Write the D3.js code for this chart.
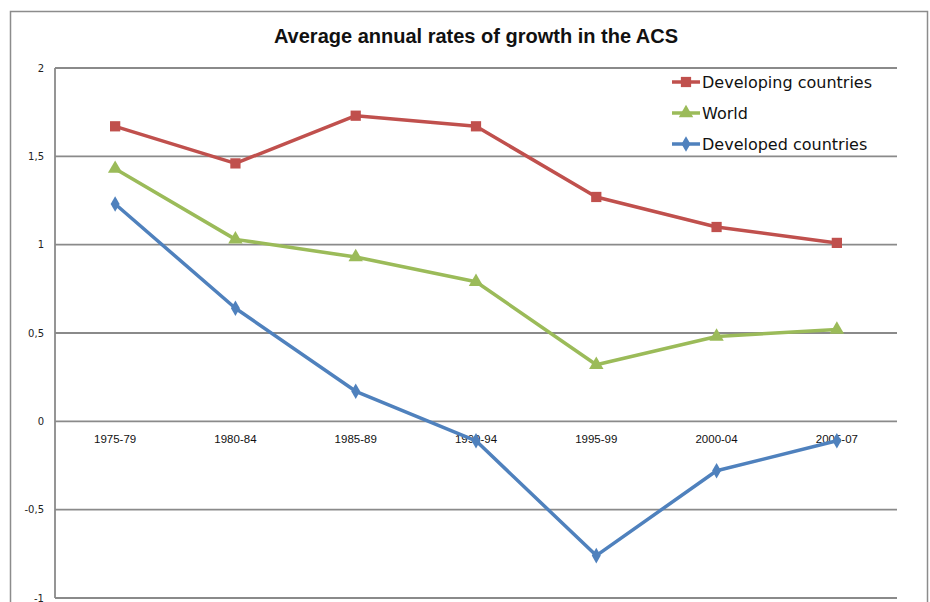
<!DOCTYPE html>
<html>
<head>
<meta charset="utf-8">
<script src="https://cdn.jsdelivr.net/npm/d3@7"></script>
<style>
  body { margin: 0; background: #fff; }
  svg { display: block; }
</style>
</head>
<body>
<div id="chart"></div>
<script>
// Values
var periods = ['1975-79', '1980-84', '1985-89', '1990-94', '1995-99', '2000-04', '2005-07'];
var developing = [1.67, 1.46, 1.73, 1.67, 1.27, 1.10, 1.01];
var world = [1.43, 1.03, 0.93, 0.79, 0.32, 0.48, 0.52];
var developed = [1.23, 0.64, 0.17, -0.11, -0.76, -0.28, -0.11];
var yTicks = [-1, -0.5, 0, 0.5, 1, 1.5, 2];

var series = [
  {name: 'Developing countries', values: developing, color: '#C0504D', symbol: d3.symbolSquare, size: 105},
  {name: 'World', values: world, color: '#9BBB59', symbol: d3.symbolTriangle, size: 90},
  {name: 'Developed countries', values: developed, color: '#4F81BD', symbol: d3.symbolDiamond, size: 70}
];

var W = 930, H = 602;
var margin = {left: 55, right: 33, top: 68, bottom: 4};

var svg = d3.select('#chart').append('svg')
    .attr('width', W)
    .attr('height', H);

// outer chart frame
svg.append('rect')
    .attr('x', 10.5).attr('y', 11.5)
    .attr('width', 917).attr('height', 620)
    .attr('fill', 'none')
    .attr('stroke', '#8c8c8c')
    .attr('stroke-width', 1.5);

var x = d3.scaleBand()
    .domain(periods)
    .range([margin.left, W - margin.right]);

var y = d3.scaleLinear()
    .domain([-1, 2])
    .range([H - margin.bottom, margin.top]);

var fmt = function(d){ return String(d).replace('.', ','); };

// gridlines
svg.append('g')
    .selectAll('line')
    .data(yTicks)
    .enter()
    .append('line')
    .attr('x1', margin.left)
    .attr('x2', W - margin.right)
    .attr('y1', function(d){ return y(d); })
    .attr('y2', function(d){ return y(d); })
    .attr('stroke', '#8a8a8a')
    .attr('stroke-width', 1.8);

// vertical axis line
svg.append('line')
    .attr('x1', margin.left).attr('x2', margin.left)
    .attr('y1', y(2)).attr('y2', y(-1))
    .attr('stroke', '#8a8a8a')
    .attr('stroke-width', 1.8);

// y tick labels
var yAxis = d3.axisLeft(y).tickValues(yTicks).tickFormat(fmt).tickSize(0).tickPadding(11);
var gy = svg.append('g')
    .attr('transform', 'translate(' + margin.left + ',0)')
    .call(yAxis);
gy.select('.domain').remove();
gy.selectAll('text')
    .attr('font-family', 'DejaVu Sans, Verdana, sans-serif')
    .attr('font-size', 10)
    .attr('fill', '#222');

// x labels sit just below the zero line
var xAxis = d3.axisBottom(x).tickSize(0).tickPadding(14);
var gx = svg.append('g')
    .attr('transform', 'translate(0,' + y(0) + ')')
    .call(xAxis);
gx.select('.domain').remove();
gx.selectAll('text')
    .attr('font-family', 'Liberation Sans Narrow, Arial Narrow, sans-serif')
    .attr('font-size', 11.5)
    .attr('fill', '#111');

// title
svg.append('text')
    .attr('x', (margin.left + W - margin.right) / 2)
    .attr('y', 43)
    .attr('text-anchor', 'middle')
    .attr('font-family', 'Liberation Sans Narrow, Arial Narrow, sans-serif')
    .attr('font-weight', 'bold')
    .attr('font-size', 20)
    .attr('fill', '#111')
    .text('Average annual rates of growth in the ACS');

var cx = function(d, i){ return x(periods[i]) + x.bandwidth() / 2; };

var line = d3.line()
    .x(cx)
    .y(function(d){ return y(d); });

// draw in reverse so developing is on top like the original
series.slice().reverse().forEach(function(s){
  var g = svg.append('g');
  g.append('path')
      .datum(s.values)
      .attr('d', line)
      .attr('fill', 'none')
      .attr('stroke', s.color)
      .attr('stroke-width', 3.5)
      .attr('stroke-linejoin', 'round');
  g.selectAll('path.mark')
      .data(s.values)
      .enter()
      .append('path')
      .attr('class', 'mark')
      .attr('d', d3.symbol().type(s.symbol).size(s.size))
      .attr('transform', function(d, i){ return 'translate(' + cx(d, i) + ',' + y(d) + ')'; })
      .attr('fill', s.color);
});

// legend
var legend = svg.append('g')
    .selectAll('g')
    .data(series)
    .enter()
    .append('g')
    .attr('transform', function(d, i){ return 'translate(672,' + (82 + i * 31) + ')'; });

legend.append('line')
    .attr('x1', 0).attr('x2', 28)
    .attr('stroke', function(d){ return d.color; })
    .attr('stroke-width', 3.5);

legend.append('path')
    .attr('d', function(d){ return d3.symbol().type(d.symbol).size(d.size)(); })
    .attr('transform', 'translate(14,0)')
    .attr('fill', function(d){ return d.color; });

legend.append('text')
    .attr('x', 30)
    .attr('dy', '0.35em')
    .attr('font-family', 'DejaVu Sans, Verdana, sans-serif')
    .attr('font-size', 16)
    .attr('fill', '#111')
    .text(function(d){ return d.name; });
</script>
</body>
</html>
